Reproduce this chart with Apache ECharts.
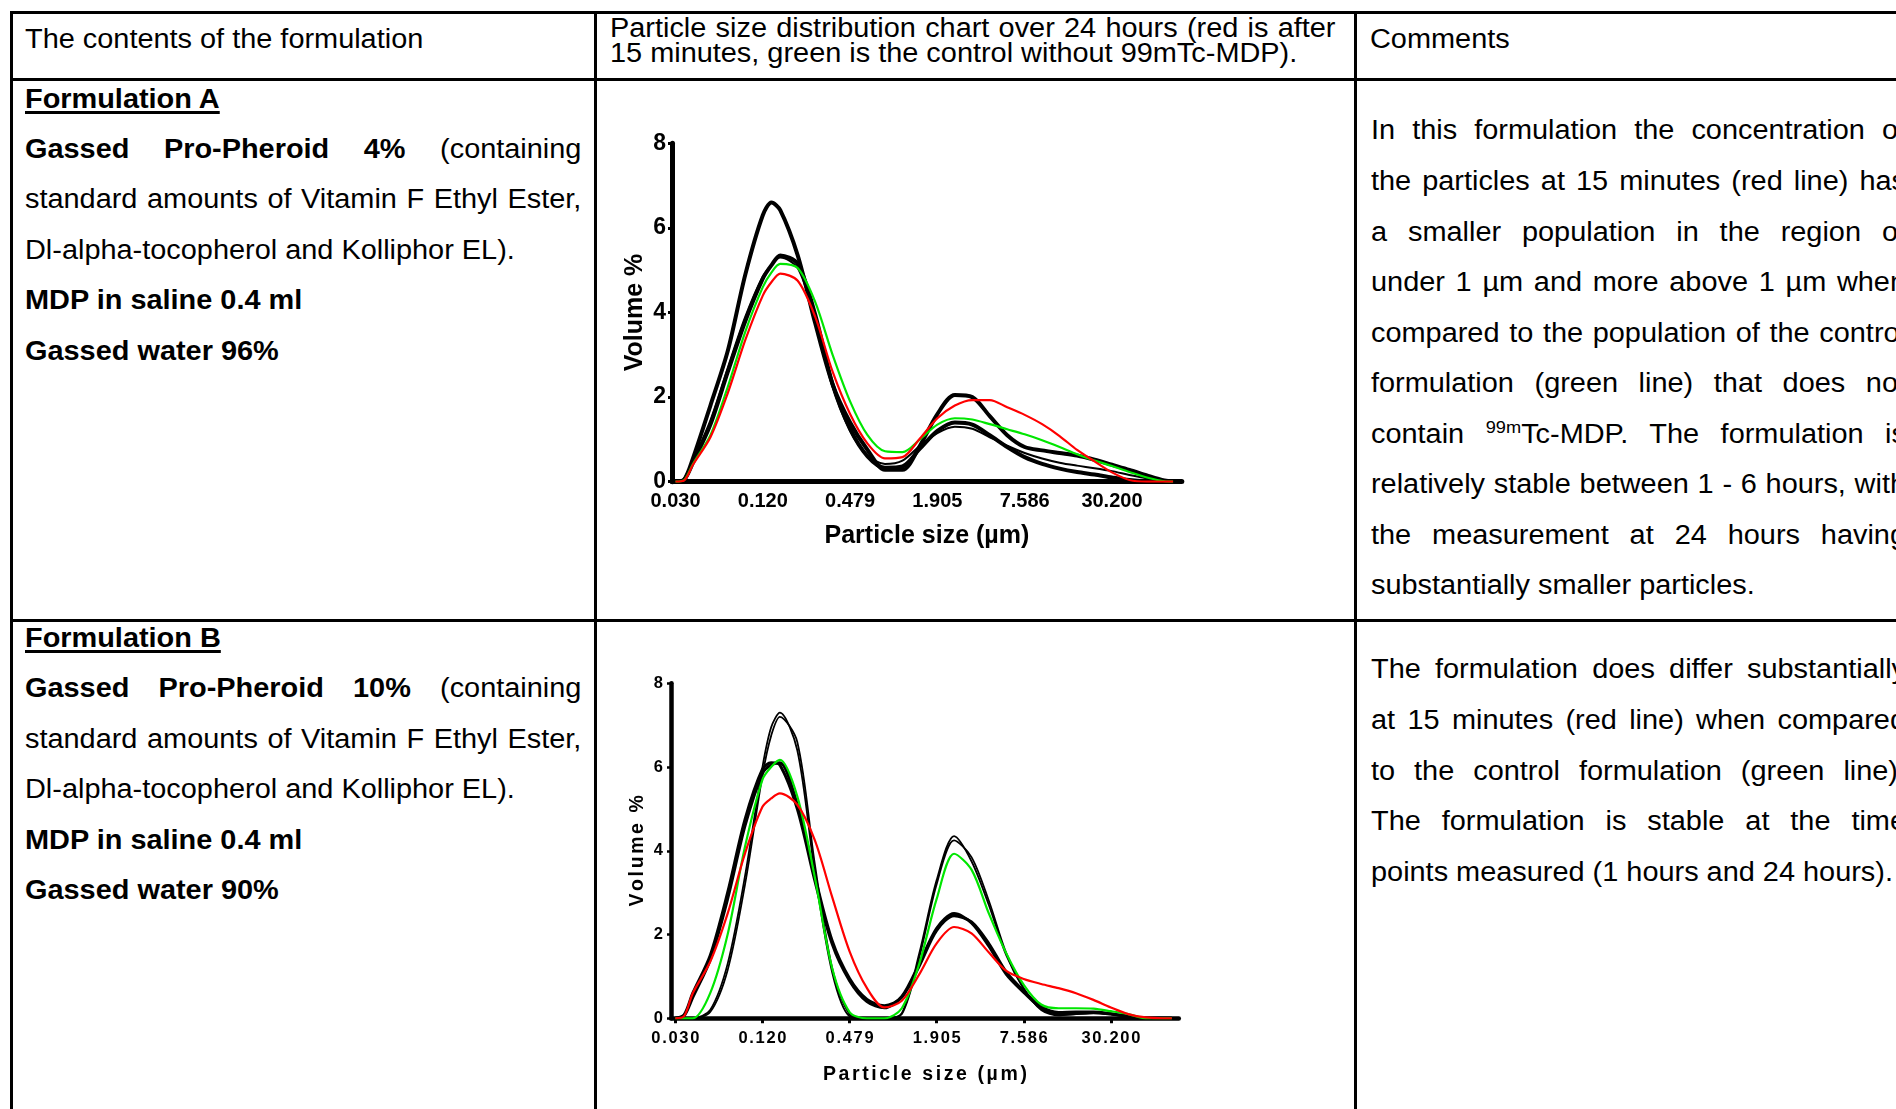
<!DOCTYPE html>
<html>
<head>
<meta charset="utf-8">
<script src="https://cdn.jsdelivr.net/npm/echarts@6/dist/echarts.min.js"></script>
<style>
body { margin: 0; background: #fff; overflow: hidden; }
#page { position: relative; width: 1896px; height: 1109px; overflow: hidden; font-family: "Liberation Sans", Arial, sans-serif; color: #000; background: #fff; }
.ln { position: absolute; background: #000; }
.t { position: absolute; font-size: 27px; line-height: 34px; transform-origin: 0 0; transform: scaleX(1.07); white-space: nowrap; }
.j { white-space: normal; text-align: justify; text-align-last: justify; }
.b { font-weight: bold; }
.u { text-decoration: underline; text-decoration-thickness: 2.5px; text-underline-offset: 3px; }
.sup { font-size: 17px; line-height: 0; vertical-align: 10px; }
.chart { position: absolute; }
</style>
</head>
<body>
<div id="page">
  <!-- table rules -->
  <div class="ln" style="left:10px;top:10.5px;width:1900px;height:3px"></div>
  <div class="ln" style="left:10px;top:77.5px;width:1900px;height:3px"></div>
  <div class="ln" style="left:10px;top:618.5px;width:1900px;height:3px"></div>
  <div class="ln" style="left:10px;top:10.5px;width:3px;height:1110px"></div>
  <div class="ln" style="left:594px;top:10.5px;width:3px;height:1110px"></div>
  <div class="ln" style="left:1353.5px;top:10.5px;width:3px;height:1110px"></div>

  <!-- header -->
  <div class="t" style="left:25px;top:22px">The contents of the formulation</div>
  <div class="t j" style="left:610px;top:11px;width:678px">Particle size distribution chart over 24 hours (red is after</div>
  <div class="t" style="left:610px;top:36px">15 minutes, green is the control without 99mTc-MDP).</div>
  <div class="t" style="left:1370px;top:22px">Comments</div>

  <!-- formulation A -->
  <div class="t b u" style="left:25px;top:82px">Formulation A</div>
  <div class="t j" style="left:25px;top:131.5px;width:520px"><b>Gassed Pro-Pheroid 4%</b> (containing</div>
  <div class="t j" style="left:25px;top:182px;width:520px">standard amounts of Vitamin F Ethyl Ester,</div>
  <div class="t" style="left:25px;top:232.5px">Dl-alpha-tocopherol and Kolliphor EL).</div>
  <div class="t b" style="left:25px;top:283px">MDP in saline 0.4 ml</div>
  <div class="t b" style="left:25px;top:333.5px">Gassed water 96%</div>

  <div class="t j" style="left:1370.5px;top:113px;width:500px">In this formulation the concentration of</div>
  <div class="t j" style="left:1370.5px;top:163.5px;width:500px">the particles at 15 minutes (red line) has</div>
  <div class="t j" style="left:1370.5px;top:214.5px;width:500px">a smaller population in the region of</div>
  <div class="t j" style="left:1370.5px;top:265px;width:500px">under 1 µm and more above 1 µm when</div>
  <div class="t j" style="left:1370.5px;top:315.5px;width:500px">compared to the population of the control</div>
  <div class="t j" style="left:1370.5px;top:366px;width:500px">formulation (green line) that does not</div>
  <div class="t j" style="left:1370.5px;top:416.5px;width:500px">contain <span class="sup">99m</span>Tc-MDP. The formulation is</div>
  <div class="t j" style="left:1370.5px;top:467px;width:500px">relatively stable between 1 - 6 hours, with</div>
  <div class="t j" style="left:1370.5px;top:517.5px;width:500px">the measurement at 24 hours having</div>
  <div class="t" style="left:1370.5px;top:568px">substantially smaller particles.</div>

  <!-- formulation B -->
  <div class="t b u" style="left:25px;top:620.5px">Formulation B</div>
  <div class="t j" style="left:25px;top:671px;width:520px"><b>Gassed Pro-Pheroid 10%</b> (containing</div>
  <div class="t j" style="left:25px;top:721.5px;width:520px">standard amounts of Vitamin F Ethyl Ester,</div>
  <div class="t" style="left:25px;top:772px">Dl-alpha-tocopherol and Kolliphor EL).</div>
  <div class="t b" style="left:25px;top:822.5px">MDP in saline 0.4 ml</div>
  <div class="t b" style="left:25px;top:873px">Gassed water 90%</div>

  <div class="t j" style="left:1370.5px;top:652px;width:500px">The formulation does differ substantially</div>
  <div class="t j" style="left:1370.5px;top:702.5px;width:500px">at 15 minutes (red line) when compared</div>
  <div class="t j" style="left:1370.5px;top:753.5px;width:500px">to the control formulation (green line).</div>
  <div class="t j" style="left:1370.5px;top:804px;width:500px">The formulation is stable at the time</div>
  <div class="t" style="left:1370.5px;top:854.5px">points measured (1 hours and 24 hours).</div>

  <div id="chartA" class="chart" style="left:600px;top:120px;width:600px;height:440px"></div>
  <div id="chartB" class="chart" style="left:600px;top:660px;width:600px;height:449px"></div>
</div>

<script>
// size bins (instrument channel number), labels every 10 channels
var sizeBin = [0, 1, 2, 4, 6, 8, 10, 11, 12, 14, 16, 18, 20, 22, 24, 26, 28, 30, 32, 34, 36, 38, 40, 42, 44, 46, 48, 50, 52, 54, 56, 57];
var tickBins = [0, 10, 20, 30, 40, 50];
var tickLabels = ['0.030', '0.120', '0.479', '1.905', '7.586', '30.200'];

// formulation A - volume %
var blackA1 = [0, 0.05, 0.55, 1.8, 3.1, 4.9, 6.3, 6.6, 6.42, 5.35, 3.75, 2.3, 1.4, 0.75, 0.28, 0.28, 0.85, 1.6, 2.05, 2.0, 1.55, 1.1, 0.82, 0.74, 0.68, 0.62, 0.52, 0.4, 0.28, 0.15, 0.03, 0];
var blackA2 = [0, 0.05, 0.45, 1.35, 2.6, 3.8, 4.8, 5.12, 5.35, 5.15, 3.95, 2.3, 1.25, 0.6, 0.33, 0.36, 0.78, 1.2, 1.4, 1.35, 1.1, 0.82, 0.58, 0.42, 0.31, 0.23, 0.17, 0.1, 0.04, 0.01, 0, 0];
var blackA3 = [0, 0.05, 0.5, 1.45, 2.7, 3.9, 4.85, 5.12, 5.3, 5.05, 3.85, 2.25, 1.2, 0.62, 0.42, 0.5, 0.85, 1.15, 1.3, 1.25, 1.05, 0.85, 0.68, 0.55, 0.45, 0.38, 0.32, 0.25, 0.16, 0.08, 0.02, 0];
var greenA = [0, 0.04, 0.42, 1.1, 2.25, 3.55, 4.6, 4.95, 5.15, 5.05, 4.25, 3.0, 1.9, 1.1, 0.72, 0.7, 1.0, 1.35, 1.5, 1.47, 1.36, 1.24, 1.12, 0.98, 0.82, 0.65, 0.5, 0.37, 0.23, 0.1, 0.01, 0];
var redA = [0, 0.03, 0.4, 1.05, 2.1, 3.35, 4.4, 4.72, 4.92, 4.75, 3.9, 2.6, 1.6, 0.9, 0.55, 0.58, 1.02, 1.5, 1.8, 1.93, 1.93, 1.76, 1.58, 1.36, 1.08, 0.75, 0.48, 0.22, 0.04, 0, 0, 0];

// formulation B - volume %
var blackB1 = [0, 0, 0, 0.2, 1.3, 3.4, 6.0, 6.95, 7.3, 6.4, 3.5, 1.1, 0.05, 0, 0, 0.12, 1.55, 3.3, 4.35, 3.75, 2.7, 1.5, 0.7, 0.2, 0.07, 0.1, 0.12, 0.1, 0.04, 0, 0, 0];
var blackB1b = [0, 0, 0, 0.15, 1.15, 3.2, 5.8, 6.75, 7.2, 6.6, 3.7, 1.2, 0.1, 0, 0, 0.1, 1.45, 3.2, 4.25, 3.85, 2.8, 1.55, 0.72, 0.22, 0.08, 0.1, 0.13, 0.1, 0.04, 0, 0, 0];
var blackB2 = [0, 0.08, 0.6, 1.5, 3.0, 4.75, 5.95, 6.1, 6.05, 5.0, 3.3, 1.78, 0.9, 0.4, 0.25, 0.52, 1.3, 2.15, 2.5, 2.28, 1.72, 1.05, 0.62, 0.25, 0.12, 0.13, 0.14, 0.1, 0.04, 0, 0, 0];
var blackB2b = [0, 0.06, 0.5, 1.4, 2.85, 4.6, 5.85, 6.05, 6.1, 5.1, 3.4, 1.85, 0.95, 0.45, 0.3, 0.5, 1.25, 2.1, 2.45, 2.3, 1.78, 1.1, 0.65, 0.28, 0.14, 0.15, 0.15, 0.11, 0.05, 0, 0, 0];
var greenB = [0, 0, 0, 0.6, 2.0, 4.1, 5.7, 6.0, 6.17, 5.3, 3.38, 1.2, 0.15, 0, 0, 0.24, 1.3, 2.85, 3.93, 3.55, 2.5, 1.55, 0.8, 0.33, 0.24, 0.24, 0.23, 0.17, 0.1, 0, 0, 0];
var redB = [0, 0.05, 0.6, 1.35, 2.5, 3.94, 5.05, 5.25, 5.37, 5.1, 4.26, 2.9, 1.6, 0.72, 0.26, 0.42, 1.05, 1.79, 2.18, 2.03, 1.57, 1.13, 0.94, 0.82, 0.72, 0.6, 0.44, 0.26, 0.1, 0.02, 0, 0];

var FONT = '"Liberation Sans", Arial, sans-serif';

function line(ys, color, width) {
    return {
        type: 'line',
        data: sizeBin.map(function (x, k) { return [x, ys[k]]; }),
        smooth: 0.3,
        showSymbol: false,
        symbol: 'none',
        silent: true,
        lineStyle: { color: color, width: width }
    };
}

// letter spaced text via rich spacer tokens
function spaced(s) {
    return s.split('').join('{g| }');
}

function tickName(v) {
    return tickLabels[Math.round(v / 10)];
}

// formulation A chart
var chartA = echarts.init(document.getElementById('chartA'));
chartA.setOption({
    animation: false,
    textStyle: { fontFamily: FONT, color: '#000' },
    grid: { left: 72, top: 23.3, width: 509.8, height: 338.4 },
    xAxis: {
        type: 'value', min: -0.4, max: 58,
        name: 'Particle size (µm)', nameLocation: 'middle', nameGap: 42, nameMoveOverlap: false,
        nameTextStyle: { fontSize: 25, fontWeight: 'bold', color: '#000', fontFamily: FONT },
        axisLine: { onZero: false, lineStyle: { color: '#000', width: 5 } },
        axisTick: { show: false },
        axisLabel: { customValues: tickBins, formatter: tickName, fontSize: 20, fontWeight: 'bold', color: '#000', margin: 10, fontFamily: FONT },
        splitLine: { show: false }
    },
    yAxis: {
        type: 'value', min: 0, max: 8, interval: 2,
        name: 'Volume %', nameLocation: 'middle', nameRotate: 90, nameGap: 24, nameMoveOverlap: false,
        nameTextStyle: { fontSize: 25, fontWeight: 'bold', color: '#000', fontFamily: FONT },
        axisLine: { show: true, onZero: false, lineStyle: { color: '#000', width: 5 } },
        axisTick: { show: true, length: 4, lineStyle: { color: '#000', width: 3 } },
        axisLabel: { fontSize: 23, fontWeight: 'bold', color: '#000', margin: 6, fontFamily: FONT },
        splitLine: { show: false }
    },
    series: [
        line(blackA3, '#000', 2),
        line(blackA2, '#000', 4),
        line(blackA1, '#000', 4),
        line(greenA, '#00e600', 2.2),
        line(redA, '#ff0000', 2.2)
    ]
});

// formulation B chart
var chartB = echarts.init(document.getElementById('chartB'));
chartB.setOption({
    animation: false,
    textStyle: { fontFamily: FONT, color: '#000' },
    grid: { left: 71, top: 23.3, width: 507.8, height: 335 },
    xAxis: {
        type: 'value', min: -0.5, max: 57.8,
        name: spaced('Particle size (µm)'), nameLocation: 'middle', nameGap: 46.5, nameMoveOverlap: false,
        nameTextStyle: { fontSize: 19.5, fontWeight: 'bold', color: '#000', fontFamily: FONT, rich: { g: { fontSize: 9.4 } } },
        axisLine: { onZero: false, lineStyle: { color: '#000', width: 4.5 } },
        axisTick: { show: true, customValues: tickBins, length: 5, lineStyle: { color: '#000', width: 3 } },
        axisLabel: {
            customValues: tickBins,
            formatter: function (v) { return spaced(tickName(v)); },
            fontSize: 16.5, fontWeight: 'bold', color: '#000', margin: 12, fontFamily: FONT,
            rich: { g: { fontSize: 6.1 } }
        },
        splitLine: { show: false }
    },
    yAxis: {
        type: 'value', min: 0, max: 8, interval: 2,
        name: spaced('Volume %'), nameLocation: 'middle', nameRotate: 90, nameGap: 23, nameMoveOverlap: false,
        nameTextStyle: { fontSize: 19.5, fontWeight: 'bold', color: '#000', fontFamily: FONT, rich: { g: { fontSize: 9.4 } } },
        axisLine: { show: true, onZero: false, lineStyle: { color: '#000', width: 4.5 } },
        axisTick: { show: true, length: 4, lineStyle: { color: '#000', width: 2.5 } },
        axisLabel: { fontSize: 16.5, fontWeight: 'bold', color: '#000', margin: 8, fontFamily: FONT },
        splitLine: { show: false }
    },
    series: [
        line(blackB1, '#000', 1.8),
        line(blackB1b, '#000', 1.8),
        line(blackB2, '#000', 3),
        line(blackB2b, '#000', 3),
        line(greenB, '#00e600', 2.2),
        line(redB, '#ff0000', 2.2)
    ]
});
</script>
</body>
</html>
